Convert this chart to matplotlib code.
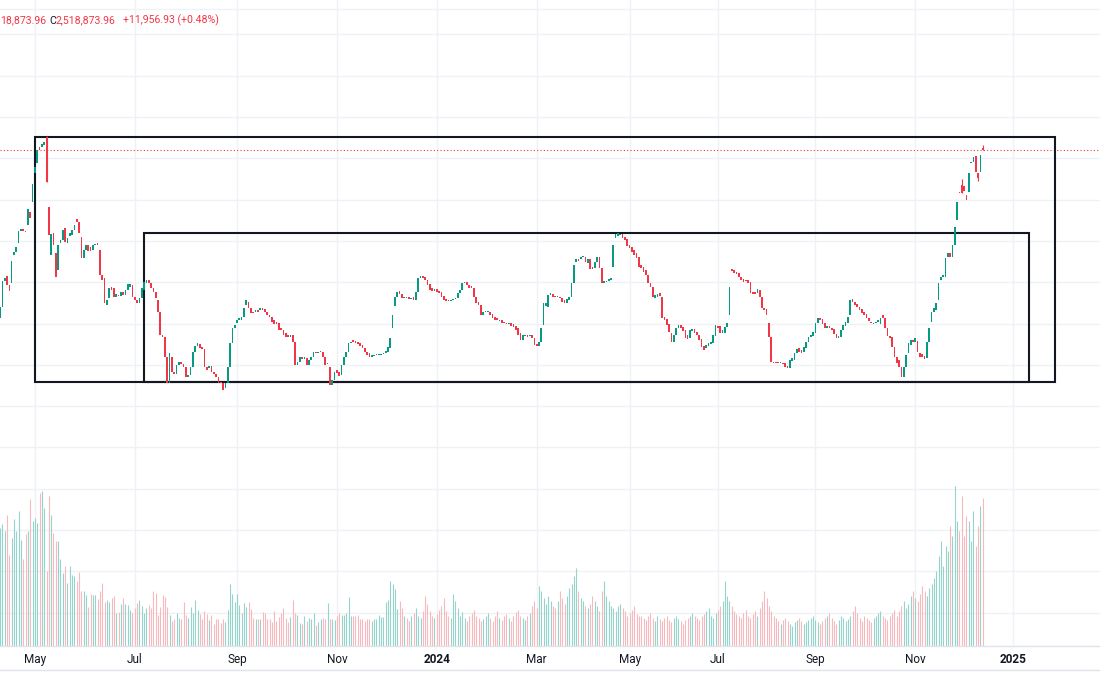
import numpy as np
import pandas as pd
import matplotlib
matplotlib.use("Agg")
import matplotlib.pyplot as plt
from matplotlib.patches import Rectangle
from matplotlib.lines import Line2D

plt.rcParams['font.family'] = ['Roboto', 'DejaVu Sans']

# ---------------- data (prices in thousands) ----------------
start_date = '2023-04-10'
market_holidays = ['2023-05-29', '2023-06-19', '2024-01-01', '2024-03-29', '2024-04-01',
                   '2024-04-10', '2024-05-01', '2024-05-15', '2024-05-27', '2024-06-06',
                   '2024-06-19', '2024-07-04', '2024-08-15', '2024-08-26', '2024-09-02',
                   '2024-11-28']

opens = [
    2099, 2126.5, 2191.5, 2204, 2181.5, 2186.5, 2256.5, 2264, 2286.5, 2316.5,
    2321.5, 2316.5, 2331.5, 2364, 2389, 2461.5, 2486.5, 2526.5, 2526.5, 2531.5,
    2551.5, 2376.5, 2256.5, 2311.5, 2261.5, 2219, 2286.5, 2294, 2324, 2286.5,
    2304, 2306.5, 2319, 2346.5, 2339, 2301.5, 2249, 2269, 2281.5, 2276.5,
    2269, 2281.5, 2286.5, 2269, 2206.5, 2199, 2131.5, 2149, 2176.5, 2174,
    2151.5, 2156.5, 2154, 2164, 2156.5, 2169, 2176.5, 2181.5, 2151.5, 2144,
    2136.5, 2149, 2169, 2186.5, 2194, 2186.5, 2174, 2164, 2144, 2114,
    2056.5, 2051.5, 2001.5,
    1936.5, 2001.5, 1964, 1959, 1981.5, 1989, 1984, 1976.5, 1951.5, 1956.5,
    1976.5, 2014, 2029, 2034, 2026.5, 2021.5, 1976.5, 1974, 1979, 1964,
    1959, 1951.5, 1939, 1936.5, 1924, 1936.5, 1976.5, 2036.5, 2074, 2086.5,
    2094, 2094, 2101.5, 2131.5, 2139, 2124, 2114, 2114, 2119, 2119,
    2124, 2121.5, 2114, 2106.5, 2101.5, 2094, 2089, 2086.5, 2074, 2069,
    2061.5, 2056.5, 2051.5, 2056.5, 2039, 1981.5, 1989, 2001.5, 1996.5, 1999,
    1981.5, 1994, 2001.5, 2014, 2011.5, 2014, 2014, 2001.5, 1984,
    1976.5, 1931.5, 1944, 1969, 1964, 1956.5, 1981.5, 2001.5, 2014, 2036.5,
    2044, 2041.5, 2039, 2036.5, 2031.5, 2024, 2014, 2011.5, 2001.5, 2004,
    2006.5, 2006.5, 2006.5, 2009, 2011.5, 2014, 2024, 2074, 2129, 2151.5,
    2166.5, 2159, 2149, 2151.5, 2151.5, 2146.5, 2151.5, 2144, 2164, 2199,
    2204, 2201.5, 2194, 2184, 2174, 2166.5, 2171.5, 2166.5, 2164, 2154,
    2146.5, 2144, 2141.5, 2144, 2146.5, 2149, 2161.5, 2169, 2186.5, 2189,
    2181.5, 2179, 2174, 2151.5, 2139, 2131.5, 2106.5, 2114, 2114, 2114,
    2109, 2101.5,
    2099, 2091.5, 2094, 2089, 2086.5, 2084, 2086.5, 2084, 2079, 2074,
    2061.5, 2044, 2054, 2056.5, 2054, 2056.5, 2049, 2034, 2029, 2039,
    2081.5, 2129, 2126.5, 2156.5, 2159, 2154, 2151.5, 2151.5, 2149, 2144,
    2136.5, 2144, 2151.5, 2186.5, 2239, 2246.5, 2246.5, 2251.5, 2251.5, 2236.5,
    2246.5, 2226.5, 2224, 2239, 2251.5, 2224, 2186.5, 2189, 2191.5, 2194,
    2226.5, 2299, 2304, 2306.5, 2309, 2301.5, 2296.5, 2281.5, 2276.5, 2269,
    2261.5, 2251.5, 2231.5, 2226.5, 2219, 2206.5, 2186.5, 2176.5, 2149, 2151.5,
    2161.5, 2151.5,
    2101.5, 2096.5, 2084, 2061.5, 2039, 2056.5, 2074, 2081.5, 2076.5, 2069,
    2056.5, 2049, 2066.5, 2071.5, 2064, 2056.5, 2046.5, 2029, 2024, 2029,
    2034, 2036.5, 2054, 2079, 2079, 2061.5, 2061.5, 2076.5, 2106.5, 2221.5,
    2219, 2214, 2211.5, 2201.5, 2196.5, 2194, 2194, 2189, 2164, 2164,
    2161.5, 2169, 2151.5, 2124, 2121.5, 2086.5, 2051.5, 1989, 1989, 1989,
    1986.5, 1986.5, 1986.5, 1979, 1974, 1991.5, 1994, 2011.5, 2024, 2019,
    2014, 2024, 2039, 2051.5, 2054, 2061.5, 2086.5, 2099, 2096.5, 2086.5,
    2074, 2079, 2074, 2071.5, 2059, 2049, 2051.5, 2069, 2079, 2086.5,
    2106.5, 2146.5, 2139, 2134, 2126.5, 2121.5, 2114, 2109, 2099, 2089,
    2084, 2086.5, 2089, 2084, 2106.5, 2099, 2074, 2054, 2051.5, 2026.5,
    2001.5, 1994, 1976.5, 1951.5, 1976.5, 2011.5, 2031.5, 2044, 2039, 2041.5,
    2011.5, 2009, 2004, 1999, 2039, 2089, 2114, 2119, 2144, 2194,
    2201.5, 2201.5, 2251.5, 2261.5, 2251.5, 2281.5, 2344, 2414, 2431.5, 2429,
    2406.5, 2414, 2486.5, 2489, 2504, 2461.5, 2464, 2524,
]

closes = [
    2126.5, 2191.5, 2199, 2181.5, 2166.5, 2241.5, 2264, 2276.5, 2316.5, 2321.5,
    2316.5, 2314, 2371.5, 2349, 2434, 2476.5, 2519, 2519, 2534, 2539,
    2439, 2306.5, 2309, 2281.5, 2201.5, 2281.5, 2294, 2319, 2289, 2299,
    2311.5, 2319, 2331.5, 2339, 2311.5, 2249, 2269, 2281.5, 2266.5, 2266.5,
    2281.5, 2284, 2281.5, 2206.5, 2194, 2136.5, 2144, 2174, 2169, 2151.5,
    2159, 2154, 2164, 2156.5, 2169, 2184, 2184, 2151.5, 2144, 2136.5,
    2149, 2174, 2189, 2194, 2186.5, 2174, 2164, 2149, 2114, 2056.5,
    2051.5, 2001.5, 1936.5,
    2011.5, 1964, 1959, 1981.5, 1989, 1984, 1976.5, 1951.5, 1956.5, 1976.5,
    2014, 2029, 2036.5, 2024, 2021.5, 1976.5, 1969, 1979, 1964, 1959,
    1951.5, 1936.5, 1936.5, 1919, 1936.5, 1976.5, 2036.5, 2074, 2081.5, 2094,
    2099, 2101.5, 2124, 2144, 2124, 2111.5, 2111.5, 2119, 2114, 2124,
    2119, 2114, 2106.5, 2101.5, 2089, 2084, 2084, 2069, 2069, 2056.5,
    2051.5, 2051.5, 2056.5, 2039, 1981.5, 1989, 2001.5, 1996.5, 2001.5, 1981.5,
    1994, 2001.5, 2014, 2011.5, 2014, 2016.5, 2001.5, 1981.5, 1986.5,
    1931.5, 1944, 1964, 1961.5, 1954, 1981.5, 2001.5, 2014, 2036.5, 2039,
    2039, 2036.5, 2034, 2029, 2024, 2014, 2006.5, 2001.5, 2006.5, 2006.5,
    2009, 2009, 2009, 2011.5, 2016.5, 2026.5, 2049, 2106.5, 2151.5, 2164,
    2159, 2149, 2151.5, 2149, 2146.5, 2149, 2144, 2164, 2199, 2204,
    2199, 2194, 2181.5, 2169, 2166.5, 2171.5, 2164, 2161.5, 2151.5, 2144,
    2141.5, 2141.5, 2144, 2146.5, 2149, 2161.5, 2169, 2186.5, 2189, 2181.5,
    2174, 2174, 2151.5, 2136.5, 2131.5, 2106.5, 2114, 2116.5, 2116.5, 2106.5,
    2099, 2094,
    2094, 2094, 2086.5, 2086.5, 2084, 2086.5, 2079, 2076.5, 2069, 2056.5,
    2044, 2056.5, 2056.5, 2051.5, 2056.5, 2049, 2031.5, 2029, 2039, 2074,
    2136.5, 2136.5, 2156.5, 2161.5, 2151.5, 2151.5, 2154, 2149, 2139, 2136.5,
    2146.5, 2151.5, 2186.5, 2231.5, 2246.5, 2241.5, 2251.5, 2254, 2239, 2246.5,
    2221.5, 2221.5, 2239, 2251.5, 2224, 2186.5, 2191.5, 2191.5, 2196.5, 2199,
    2281.5, 2309, 2311.5, 2309, 2299, 2294, 2279, 2274, 2264, 2256.5,
    2249, 2226.5, 2224, 2214, 2206.5, 2186.5, 2176.5, 2151.5, 2156.5, 2159,
    2154, 2099,
    2094, 2081.5, 2064, 2039, 2056.5, 2074, 2081.5, 2074, 2066.5, 2049,
    2046.5, 2069, 2071.5, 2061.5, 2056.5, 2044, 2026.5, 2019, 2031.5, 2036.5,
    2039, 2056.5, 2081.5, 2074, 2061.5, 2069, 2076.5, 2086.5, 2176.5, 2216.5,
    2211.5, 2209, 2201.5, 2194, 2189, 2191.5, 2186.5, 2161.5, 2159, 2159,
    2171.5, 2151.5, 2124, 2119, 2106.5, 2051.5, 1989, 1986.5, 1986.5, 1986.5,
    1989, 1984, 1976.5, 1974, 1994, 1999, 2011.5, 2021.5, 2014, 2011.5,
    2026.5, 2039, 2051.5, 2056.5, 2064, 2086.5, 2099, 2094, 2084, 2074,
    2079, 2074, 2069, 2059, 2049, 2054, 2069, 2081.5, 2089, 2101.5,
    2144, 2139, 2131.5, 2126.5, 2119, 2111.5, 2106.5, 2099, 2091.5, 2086.5,
    2086.5, 2089, 2094, 2099, 2099, 2074, 2054, 2049, 2026.5, 2001.5,
    1986.5, 1976.5, 1951.5, 1976.5, 2006.5, 2036.5, 2044, 2039, 2049, 2014,
    2001.5, 2001.5, 1996.5, 2039, 2074, 2114, 2124, 2136.5, 2186.5, 2201.5,
    2206.5, 2249, 2261.5, 2251.5, 2281.5, 2326.5, 2389, 2411.5, 2411.5, 2416.5,
    2394, 2461.5, 2489, 2501.5, 2464, 2449, 2506.91703, 2518.87396,
]

# visible wick extremes (index: (low, high))
wicks = {20: (2439, 2553), 414: (2411.5, 2446), 421: (2441, 2461.5), 423: (2518.87396, 2531.5)}

volumes = [
    118, 121.7, 115, 130.7, 90.7, 107.4, 126.4, 115, 134.7, 105.7,
    86.4, 111.7, 114.7, 146.4, 124.7, 127.4, 123, 152.4, 154.7, 138,
    74.7, 150, 131, 112.4, 104.7, 104.7, 86.7, 73, 79.7, 62.4,
    79.7, 71, 69.7, 64.7, 73.7, 54.7, 54.7, 50.7, 39, 51.4,
    50.7, 50.7, 46.7, 55, 62.4, 43.4, 45.7, 43.4, 47.7, 49.7,
    32.4, 34, 41.7, 47.7, 41.7, 40.7, 35.7, 33, 37.4, 43,
    45.4, 39.7, 33, 38, 41, 37.4, 54.7, 52.4, 30.7, 38.4,
    50.4, 48.7, 38.4, 30.7, 24.7, 26.4, 32.4, 28, 27, 43.4,
    30.7, 28, 39, 32.4, 45.4, 36, 32, 26.4, 35, 31.7,
    25.7, 30.7, 22, 26.4, 26.4, 23, 26.4, 23.7, 35.7, 61.4,
    51.4, 43.7, 51.4, 41, 32.4, 42.7, 39, 43.7, 36.7, 28,
    26.4, 27, 27, 34, 32.4, 26.4, 27, 24, 35, 24.7,
    29, 32.4, 37.7, 28, 23.7, 29, 45.4, 33, 30.7, 23,
    22, 29.7, 24.7, 27.4, 27, 32.4, 20.7, 23.7, 27, 27.4,
    26.4, 42.4, 27, 26.4, 25.4, 30, 32.4, 30.7, 31, 32.4,
    48.7, 29.7, 29.7, 29.7, 30.7, 27, 27, 24.7, 26.4, 27,
    24.7, 27, 26.4, 30.7, 29, 29, 43.7, 45.4, 64.7, 61.7,
    56.7, 36.7,
    45, 38, 30, 28, 25, 30, 33, 38, 30, 28, 35, 50, 42, 35, 30, 28, 32, 36,
    40, 48, 35, 30, 28, 52, 45, 38, 30, 34, 28, 25, 30, 33, 36, 30, 28, 25, 27, 30,
    33, 28, 25, 30, 35, 28, 26, 30, 32, 28, 25, 30, 34, 36, 30, 28, 26, 30, 33, 40, 45, 38,
    60, 55, 48, 42, 50, 45, 40, 38, 45, 55, 48, 42, 50, 58, 62, 70, 78, 55, 48,
    45, 40, 38, 42, 50, 45, 40, 35, 55, 65, 50, 45, 40, 38, 35, 40, 42, 38, 35, 30,
    33, 36, 40, 32, 30,
    30, 28, 26, 30, 33, 28, 25, 30, 27, 25, 28, 30, 26, 24, 28, 30, 27, 25, 22, 26,
    28, 30, 33, 30, 28, 26, 30, 32, 35, 38, 30, 28, 33, 36, 40,
    45, 65, 50, 45, 40, 35, 32, 30, 28, 33, 36, 30, 28, 32, 35, 30, 38, 45, 55, 48, 40,
    35, 30, 28, 25, 22, 26, 28, 25, 22, 20, 24, 26, 28, 25, 22, 24, 26, 28, 30, 26,
    24, 22, 25, 28, 30, 33, 28, 25, 22, 26, 30, 28, 25, 27, 30, 35, 40, 33, 28, 25,
    30, 28, 26, 24, 28, 30, 33, 35, 30, 28, 26, 30, 33, 36, 30, 35, 40,
    45, 38, 42, 50, 55, 48, 45, 52, 60, 55, 50, 58, 62, 68, 75,
    90, 105, 80, 100, 95, 120, 110, 160, 125, 115, 150, 110, 130, 125, 105, 135, 100, 120, 140, 148,
]

# drawn range boxes: (start date, end date, top price, bottom price)
boxes = [('2023-05-01', '2025-01-27', 2550.75, 1939.75),
         ('2023-07-07', '2025-01-10', 2310.75, 1939.75)]

# ---------------- styling ----------------
GREEN, RED = '#089981', '#f23645'
VGREEN, VRED = '#95d4ca', '#f9b8bd'
GRID = '#eff1f5'
TEXT = '#131722'

n = min(len(opens), len(closes), len(volumes))
o = np.array(opens[:n], float)
c = np.array(closes[:n], float)
v = np.array(volumes[:n], float)
idx = np.arange(n)
up = c >= o

timeline = pd.bdate_range(start_date, '2025-03-31', freq='C', holidays=market_holidays)

def pos(d):
    return timeline.get_loc(pd.Timestamp(d))

W, H = 1100, 700
fig = plt.figure(figsize=(W / 100, H / 100), dpi=100)
pane_bottom_px = 645.7
ax = fig.add_axes([0, 1 - pane_bottom_px / H, 1, pane_bottom_px / H])
ax.set_facecolor('white')

xlim = (-0.02, 473.5)
ylim = (1279.75, 2894.0)

# grid
grid_vals = 2498.25 + 103.25 * np.arange(-15, 4)
for g in grid_vals:
    ax.axhline(g, color=GRID, lw=1.0, zorder=0)

ticks, labels = [], []
prev = None
for i, d in enumerate(timeline):
    key = (d.year, d.month)
    if key != prev:
        prev = key
        if d.month % 2 == 1 and xlim[0] <= i <= xlim[1]:
            ticks.append(i)
            labels.append(str(d.year) if d.month == 1 else d.strftime('%b'))
for t in ticks:
    ax.axvline(t, color=GRID, lw=1.0, zorder=0)

# volume (bottom quarter of pane)
vol_top = v.max() * 4.035
ax.vlines(idx, 0, v / vol_top, colors=np.where(up, VGREEN, VRED), linewidth=0.8,
          transform=ax.get_xaxis_transform(), zorder=1)

# boxes
for d0, d1, top, bot in boxes:
    ax.add_patch(Rectangle((pos(d0), bot), pos(d1) - pos(d0), top - bot, fill=False,
                           ec='#131722', lw=1.5, zorder=3))

# candles
for k, (lo, hi) in wicks.items():
    if k < n:
        ax.vlines(k, lo, hi, colors=GREEN if up[k] else RED, linewidth=0.8, zorder=4)
body_lo = np.minimum(o, c)
body_h = np.maximum(np.abs(c - o), 1.2)
ax.bar(idx, body_h, bottom=body_lo, width=0.72, color=np.where(up, GREEN, RED),
       linewidth=0, zorder=5)

# last price line
ax.axhline(c[-1], color=RED, lw=0.8, ls=(0, (1, 2)), zorder=2)

ax.set_xlim(*xlim)
ax.set_ylim(*ylim)
ax.set_yticks([])
ax.set_xticks(ticks)
ax.set_xticklabels(labels)
for t, lab in zip(ax.get_xticklabels(), labels):
    t.set_fontsize(8.5)
    t.set_color(TEXT)
    if lab.isdigit():
        t.set_fontweight('bold')
ax.tick_params(axis='x', length=0, pad=5)
for s in ['top', 'left', 'right']:
    ax.spines[s].set_visible(False)
ax.spines['bottom'].set_color('#e0e3eb')
ax.spines['bottom'].set_linewidth(1.0)

fig.add_artist(Line2D([0, 1], [1 - 670 / H, 1 - 670 / H], color='#e0e3eb', lw=1.0))
fig.add_artist(Line2D([0, 1], [1 - 9 / H, 1 - 9 / H], color=GRID, lw=1.0))

# legend text (OHLC strip, left part scrolled out of view as in the screenshot)
last_low = min(o[-1], c[-1]) * 1000
last_close = c[-1] * 1000
chg = (c[-1] - c[-2]) * 1000
pct = chg / (c[-2] * 1000) * 100
low_txt = f"{last_low:,.2f}"
ty = 1 - 20.5 / H
fs = 7.55
fig.text(0.5 / W, ty, low_txt[3:], color=RED, fontsize=fs, ha='left', va='center')
fig.text(49 / W, ty, "C", color=TEXT, fontsize=fs, ha='left', va='center')
fig.text(55.5 / W, ty, f"{last_close:,.2f}", color=RED, fontsize=fs, ha='left', va='center')
fig.text(123 / W, ty, f"{chg:+,.2f} ({pct:+.2f}%)", color=RED, fontsize=fs, ha='left', va='center')

fig.savefig('out.png', dpi=100, facecolor='white')
